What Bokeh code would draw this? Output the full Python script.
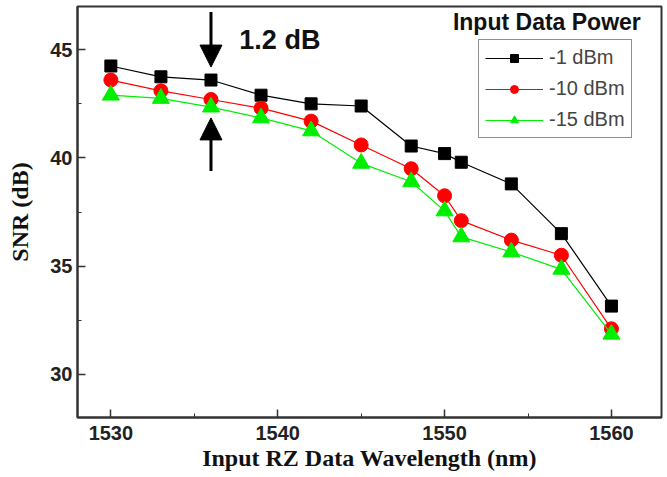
from bokeh.plotting import figure
from bokeh.models import Range1d, Label, Arrow, NormalHead, SingleIntervalTicker
from bokeh.embed import file_html
from bokeh.resources import INLINE

# ---- data ----
wavelength = [1530, 1533, 1536, 1539, 1542, 1545, 1548, 1550, 1551, 1554, 1557, 1560]
snr_m1 = [44.25, 43.75, 43.6, 42.9, 42.5, 42.4, 40.55, 40.2, 39.8, 38.8, 36.5, 33.15]
snr_m10 = [43.6, 43.1, 42.7, 42.3, 41.7, 40.6, 39.5, 38.25, 37.1, 36.2, 35.5, 32.1]
snr_m15 = [42.9, 42.75, 42.35, 41.85, 41.25, 39.75, 38.9, 37.55, 36.35, 35.65, 34.85, 31.85]
series_labels = ["-1 dBm", "-10 dBm", "-15 dBm"]
legend_title = "Input Data Power"
annot_text = "1.2 dB"
arrow_x = 1536
arrow_down = (46.75, 44.2)
arrow_up = (39.4, 41.85)
annot_pos = (1537.7, 44.75)
title_pos = (1550.5, 45.7)

p = figure(width=663, height=473, x_range=Range1d(1528, 1563), y_range=Range1d(28, 47),
           output_backend="svg", toolbar_location=None,
           min_border_left=77, min_border_right=2, min_border_top=6, min_border_bottom=56)
p.grid.visible = False
p.outline_line_color = "#333333"
p.outline_line_width = 2
p.background_fill_color = "white"
p.border_fill_color = "white"

p.xaxis.ticker = SingleIntervalTicker(interval=10, num_minor_ticks=2)
p.yaxis.ticker = SingleIntervalTicker(interval=5, num_minor_ticks=2)
for ax in (p.xaxis, p.yaxis):
    ax.axis_line_color = "#333333"
    ax.axis_line_width = 2
    ax.major_tick_in = 8
    ax.major_tick_out = 0
    ax.minor_tick_in = 4
    ax.minor_tick_out = 0
    ax.major_tick_line_color = "#333333"
    ax.minor_tick_line_color = "#333333"
    ax.major_tick_line_width = 1.5
    ax.major_label_text_font = "Liberation Sans"
    ax.major_label_text_font_style = "bold"
    ax.major_label_text_font_size = "20px"
    ax.major_label_text_color = "#222222"
    ax.axis_label_text_font = "Liberation Serif"
    ax.axis_label_text_font_style = "bold"
    ax.axis_label_text_font_size = "24px"
    ax.axis_label_text_color = "#111111"
p.xaxis.axis_label = "Input RZ Data Wavelength (nm)"
p.yaxis.axis_label = "SNR (dB)"
p.xaxis.major_label_standoff = 8
p.yaxis.major_label_standoff = 5
p.xaxis.axis_label_standoff = 2
p.yaxis.axis_label_standoff = 14

green = "#00ee00"
p.line(wavelength, snr_m1, color="black", line_width=1.2, legend_label=series_labels[0])
p.scatter(wavelength, snr_m1, marker="square", size=12, color="black", legend_label=series_labels[0])
p.line(wavelength, snr_m10, color="red", line_width=1.2, legend_label=series_labels[1])
p.scatter(wavelength, snr_m10, marker="circle", size=14, color="red", legend_label=series_labels[1])
p.line(wavelength, snr_m15, color=green, line_width=1.2, legend_label=series_labels[2])
p.scatter(wavelength, snr_m15, marker="triangle", size=17, color=green, legend_label=series_labels[2])

lg = p.legend[0]
lg.location = (401, 279)
lg.label_text_font = "Liberation Sans"
lg.label_text_font_size = "20px"
lg.border_line_color = "#222222"
lg.border_line_width = 1.5
lg.glyph_width = 58
lg.glyph_height = 20
lg.label_height = 20
lg.spacing = 8
lg.padding = 6
lg.label_standoff = 6
lg.margin = 0
lg.background_fill_alpha = 1

p.add_layout(Label(x=title_pos[0], y=title_pos[1], text=legend_title,
                   text_font="Liberation Sans", text_font_style="bold",
                   text_font_size="23px", text_color="#111111"))
p.add_layout(Label(x=annot_pos[0], y=annot_pos[1], text=annot_text,
                   text_font="Liberation Sans", text_font_style="bold",
                   text_font_size="27px", text_color="#111111"))

for y0, y1 in (arrow_down, arrow_up):
    p.add_layout(Arrow(end=NormalHead(size=22, fill_color="black", line_color="black"),
                       x_start=arrow_x, y_start=y0, x_end=arrow_x, y_end=y1,
                       line_width=3, line_color="black"))

open("out.html", "w").write(file_html(p, INLINE))
